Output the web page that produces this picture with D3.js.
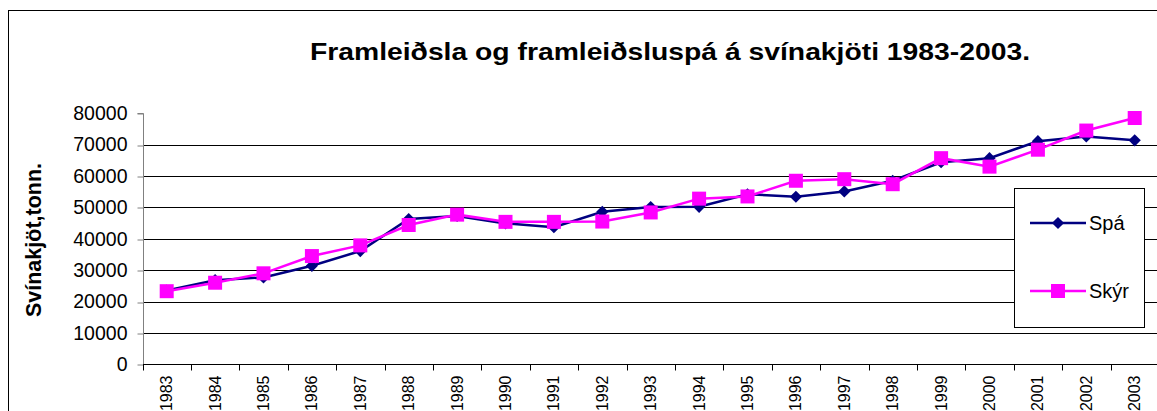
<!DOCTYPE html>
<html>
<head>
<meta charset="utf-8">
<script src="https://cdn.jsdelivr.net/npm/d3@7"></script>
<style>
  html, body { margin: 0; padding: 0; background: #fff; }
  svg { display: block; font-family: "Liberation Sans", Arial, sans-serif; }
</style>
</head>
<body>
<svg id="chart" width="1157" height="411"></svg>
<script>
const years = ["1983","1984","1985","1986","1987","1988","1989","1990","1991","1992","1993","1994","1995","1996","1997","1998","1999","2000","2001","2002","2003"];
const spa  = [23500,26800,27700,31400,36100,46300,47300,44900,43700,48600,50100,50200,54200,53400,55100,58500,64400,65700,71100,72600,71400];
const skyr = [23300,26000,29000,34500,37900,44400,47700,45400,45400,45500,48400,52800,53500,58500,59000,57400,65700,63000,68400,74500,78500];
const yTicks = [0,10000,20000,30000,40000,50000,60000,70000,80000];
const seriesNames = ["Spá","Skýr"];
const titleText = "Framleiðsla og framleiðsluspá á svínakjöti 1983-2003.";
const yTitle = "Svínakjöt,tonn.";

const svg = d3.select("#chart");
const W = 1157, H = 411;
const navy = "#000080", magenta = "#FF00FF";

// outer frame
svg.append("rect").attr("x", 8.5).attr("y", 10.5).attr("width", W).attr("height", H)
  .attr("fill", "none").attr("stroke", "#000").attr("stroke-width", 1);

const x = d3.scaleBand().domain(years).range([142.5, 142.5 + 21 * 48.4]).padding(0);
const y = d3.scaleLinear().domain([0, 80000]).range([364.3, 113.3]);

// gridlines
svg.append("g").selectAll("line").data(yTicks.filter(d => d > 0 && d < 80000)).join("line")
  .attr("x1", 143).attr("x2", W)
  .attr("y1", d => Math.round(y(d)) + 0.5).attr("y2", d => Math.round(y(d)) + 0.5)
  .attr("stroke", "#000").attr("stroke-width", 1);

// y axis
const yAxis = d3.axisLeft(y).tickValues(yTicks).tickSize(6).tickPadding(10).tickFormat(d3.format("d"));
const gy = svg.append("g").attr("transform", "translate(143.5,0)").call(yAxis);
gy.select(".domain").attr("stroke", "#808080").attr("d", `M-6,${Math.round(y(80000))+0.5}H0V${Math.round(y(0))+0.5}`);
gy.selectAll(".tick line").attr("stroke", "#808080")
  .attr("transform", function(d){ const t = y(d); return `translate(0,${Math.round(t)+0.5 - t})`; });
gy.selectAll(".tick text").attr("font-size", 19.5).attr("fill", "#000")
  .attr("font-family", "Liberation Sans, Arial, sans-serif");

// x axis
const gx = svg.append("g").attr("transform", `translate(0,${Math.round(y(0))+0.5})`);
gx.append("line").attr("x1", 143).attr("x2", W).attr("y1", 0).attr("y2", 0).attr("stroke", "#000");
gx.selectAll("line.tk").data(years).join("line").attr("class", "tk")
  .attr("x1", d => Math.round(x(d)) + 0.5).attr("x2", d => Math.round(x(d)) + 0.5)
  .attr("y1", 0).attr("y2", 6).attr("stroke", "#000");
gx.selectAll("text").data(years).join("text")
  .attr("transform", d => `translate(${x(d) + x.bandwidth()/2 + 5.5},11) rotate(-90)`)
  .attr("text-anchor", "end").attr("font-size", 16).attr("fill", "#000")
  .text(d => d);

// lines
const line = d3.line().x((d, i) => x(years[i]) + x.bandwidth()/2).y(d => y(d));
svg.append("path").datum(spa).attr("d", line).attr("fill", "none").attr("stroke", navy).attr("stroke-width", 2.5);
svg.append("path").datum(skyr).attr("d", line).attr("fill", "none").attr("stroke", magenta).attr("stroke-width", 2.5);

const diamond = d3.symbol().type(d3.symbolDiamond2).size(95);
svg.append("g").selectAll("path").data(spa).join("path")
  .attr("d", diamond)
  .attr("transform", (d, i) => `translate(${x(years[i]) + x.bandwidth()/2},${y(d)})`)
  .attr("fill", navy);
svg.append("g").selectAll("rect").data(skyr).join("rect")
  .attr("x", (d, i) => x(years[i]) + x.bandwidth()/2 - 7)
  .attr("y", d => y(d) - 7)
  .attr("width", 14).attr("height", 14).attr("fill", magenta);

// title
svg.append("text").attr("x", 310).attr("y", 60).attr("font-size", 24).attr("font-weight", "bold")
  .attr("textLength", 720).attr("lengthAdjust", "spacingAndGlyphs").text(titleText);

// y title
svg.append("text").attr("transform", "translate(41,240) rotate(-90)").attr("text-anchor", "middle")
  .attr("font-size", 21.5).attr("font-weight", "bold").text(yTitle);

// legend
const lg = svg.append("g");
lg.append("rect").attr("x", 1014.5).attr("y", 188.5).attr("width", 130).attr("height", 139)
  .attr("fill", "#fff").attr("stroke", "#000");
const legendY = [223, 291];
const colors = [navy, magenta];
seriesNames.forEach((name, i) => {
  lg.append("line").attr("x1", 1030).attr("x2", 1086).attr("y1", legendY[i]).attr("y2", legendY[i])
    .attr("stroke", colors[i]).attr("stroke-width", 2.5);
  if (i === 0) {
    lg.append("path").attr("d", diamond).attr("transform", `translate(1058,${legendY[i]})`).attr("fill", navy);
  } else {
    lg.append("rect").attr("x", 1051).attr("y", legendY[i] - 7).attr("width", 14).attr("height", 14).attr("fill", magenta);
  }
  lg.append("text").attr("x", 1089).attr("y", legendY[i] + 7).attr("font-size", 20).text(name);
});
</script>
</body>
</html>
